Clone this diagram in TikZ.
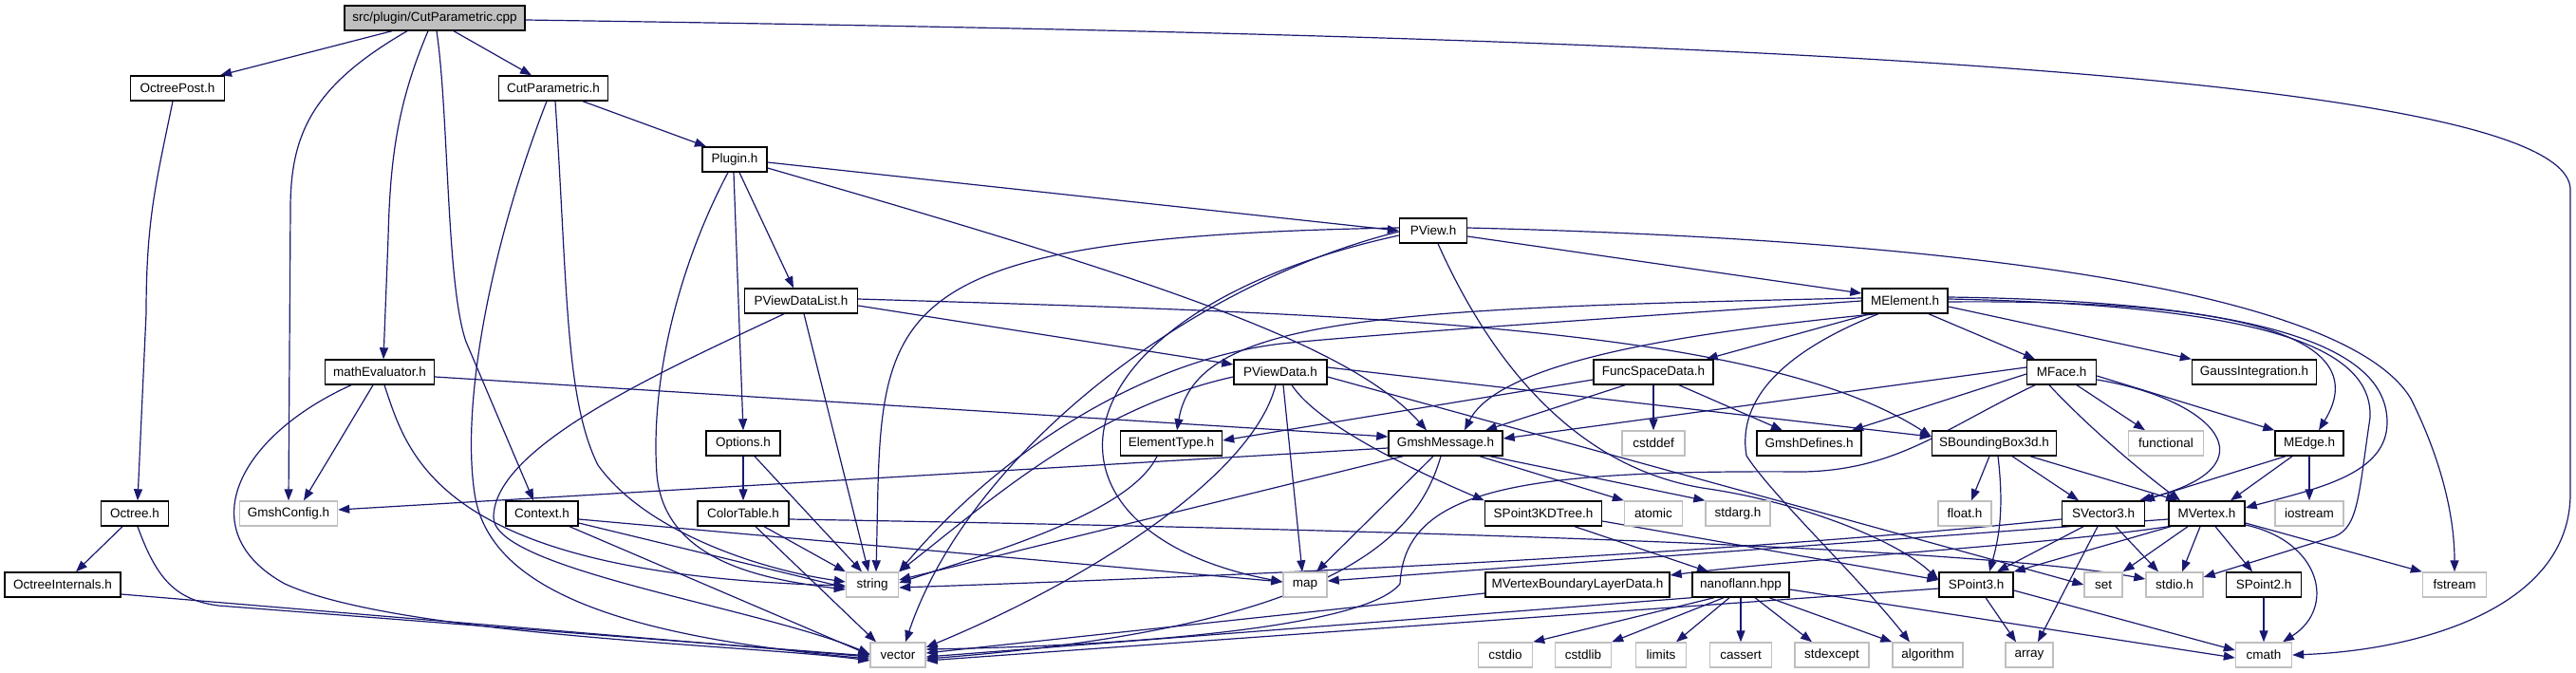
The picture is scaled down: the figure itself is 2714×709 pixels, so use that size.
\documentclass[tikz,border=0pt]{standalone}
\usepackage{fontspec}
\setmainfont{Liberation Sans}
\usetikzlibrary{arrows.meta}
\definecolor{edgeblue}{HTML}{191970}
\definecolor{sysgray}{HTML}{BFBFBF}
\pgfdeclarelayer{bg}
\pgfsetlayers{bg,main}
\begin{document}
\begin{tikzpicture}[x=1pt,y=-1pt,
  hdr/.style={draw=black, line width=1.4pt, fill=white, minimum height=26pt, inner sep=0pt,
              font=\fontsize{13.5}{16}\selectfont},
  sysh/.style={hdr, draw=sysgray},
  lnk/.style={draw=edgeblue, line width=1.2pt, -{Triangle[length=12pt,width=9pt]}}]
\useasboundingbox (0,0) rectangle (2714,709);
% row 1
\node[hdr, fill=sysgray, minimum width=190pt] (cpp) at (458,19) {src/plugin/CutParametric.cpp};
% row 2
\node[hdr, minimum width=99pt] (OctreePost) at (187,93) {OctreePost.h};
\node[hdr, minimum width=115pt] (CutParamH) at (583,93) {CutParametric.h};
% row 3
\node[hdr, minimum width=68pt] (Plugin) at (774,168) {Plugin.h};
% row 4
\node[hdr, minimum width=71pt] (PView) at (1510,243) {PView.h};
% row 5
\node[hdr, minimum width=119pt] (PViewDataList) at (844,317) {PViewDataList.h};
\node[hdr, minimum width=90pt] (MElement) at (2007,317) {MElement.h};
% row 6
\node[hdr, minimum width=115pt] (mathEvaluator) at (400,392) {mathEvaluator.h};
\node[hdr, minimum width=98pt] (PViewData) at (1349,392) {PViewData.h};
\node[hdr, minimum width=126pt] (FuncSpaceData) at (1742,392) {FuncSpaceData.h};
\node[hdr, minimum width=73pt] (MFace) at (2172,392) {MFace.h};
\node[hdr, minimum width=131pt] (GaussIntegration) at (2375,392) {GaussIntegration.h};
% row 7
\node[hdr, minimum width=78pt] (Options) at (783,467) {Options.h};
\node[hdr, minimum width=107pt] (ElementType) at (1234,467) {ElementType.h};
\node[hdr, minimum width=120pt] (GmshMessage) at (1523,467) {GmshMessage.h};
\node[sysh, minimum width=66pt] (cstddef) at (1742,467) {cstddef};
\node[hdr, minimum width=110pt] (GmshDefines) at (1906,467) {GmshDefines.h};
\node[hdr, minimum width=131pt] (SBoundingBox3d) at (2101,467) {SBoundingBox3d.h};
\node[sysh, minimum width=79pt] (functional) at (2282,467) {functional};
\node[hdr, minimum width=72pt] (MEdge) at (2433,467) {MEdge.h};
% row 8
\node[hdr, minimum width=71pt] (Octree) at (142,541) {Octree.h};
\node[sysh, minimum width=103pt] (GmshConfig) at (304,541) {GmshConfig.h};
\node[hdr, minimum width=76pt] (Context) at (571,541) {Context.h};
\node[hdr, minimum width=96pt] (ColorTable) at (783,541) {ColorTable.h};
\node[hdr, minimum width=123pt] (SPoint3KDTree) at (1626,541) {SPoint3KDTree.h};
\node[sysh, minimum width=61pt] (atomic) at (1742,541) {atomic};
\node[sysh, minimum width=68pt] (stdarg) at (1831,541) {stdarg.h};
\node[sysh, minimum width=56pt] (float) at (2070,541) {float.h};
\node[hdr, minimum width=87pt] (SVector3) at (2216,541) {SVector3.h};
\node[hdr, minimum width=80pt] (MVertex) at (2325,541) {MVertex.h};
\node[sysh, minimum width=72pt] (iostream) at (2433,541) {iostream};
% row 9
\node[hdr, minimum width=122pt] (OctreeInternals) at (66,616) {OctreeInternals.h};
\node[sysh, minimum width=55pt] (string) at (919,616) {string};
\node[sysh, minimum width=46pt] (map) at (1375,616) {map};
\node[hdr, minimum width=194pt] (MVBLD) at (1662,616) {MVertexBoundaryLayerData.h};
\node[hdr, minimum width=102pt] (nanoflann) at (1834,616) {nanoflann.hpp};
\node[hdr, minimum width=78pt] (SPoint3) at (2082,616) {SPoint3.h};
\node[sysh, minimum width=40pt] (set) at (2216,616) {set};
\node[sysh, minimum width=60pt] (stdio) at (2291,616) {stdio.h};
\node[hdr, minimum width=79pt] (SPoint2) at (2385,616) {SPoint2.h};
\node[sysh, minimum width=67pt] (fstream) at (2586,616) {fstream};
% row 10
\node[sysh, minimum width=58pt] (vector) at (946,690) {vector};
\node[sysh, minimum width=57pt] (cstdio) at (1586,690) {cstdio};
\node[sysh, minimum width=59pt] (cstdlib) at (1668,690) {cstdlib};
\node[sysh, minimum width=53pt] (limits) at (1750,690) {limits};
\node[sysh, minimum width=65pt] (cassert) at (1834,690) {cassert};
\node[sysh, minimum width=78pt] (stdexcept) at (1930,690) {stdexcept};
\node[sysh, minimum width=74pt] (algorithm) at (2031,690) {algorithm};
\node[sysh, minimum width=50pt] (array) at (2138,690) {array};
\node[sysh, minimum width=59pt] (cmath) at (2385,690) {cmath};

\begin{pgfonlayer}{bg}
% cpp
\draw[lnk] ([xshift=-45pt]cpp.south) -- ([xshift=45pt]OctreePost.north);
\draw[lnk] ([xshift=-29pt]cpp.south) .. controls (330,90) and (306,140) .. (306,220) -- (GmshConfig.north);
\draw[lnk] ([xshift=-7pt]cpp.south) .. controls (418,110) and (411,170) .. (409,250) -- ([xshift=4pt]mathEvaluator.north);
\draw[lnk] ([xshift=2pt]cpp.south) .. controls (473,120) and (470,300) .. (491,360) -- ([xshift=-9pt]Context.north);
\draw[lnk] ([xshift=20pt]cpp.south) -- ([xshift=-23pt]CutParamH.north);
\draw[lnk] ([yshift=-2pt]cpp.east) .. controls (1500,35) and (2708,60) .. (2708,200) -- (2708,520) .. controls (2708,640) and (2550,685) .. (cmath.east);
% OctreePost / Octree
\draw[lnk] ([xshift=-5pt]OctreePost.south) .. controls (165,190) and (154,230) .. (154,330) -- ([xshift=3pt]Octree.north);
\draw[lnk] ([xshift=-13pt]Octree.south) -- ([xshift=14pt]OctreeInternals.north);
\draw[lnk] ([xshift=3pt]Octree.south) .. controls (165,610) and (185,632) .. (230,638) -- ([yshift=-1pt]vector.west);
\draw[lnk] ([yshift=-10pt]OctreeInternals.east) -- ([yshift=-2pt]vector.west);
% CutParametric.h
\draw[lnk] ([xshift=31pt]CutParamH.south) -- ([xshift=-30pt]Plugin.north);
\draw[lnk] ([xshift=-7pt]CutParamH.south) .. controls (520,250) and (485,420) .. (500,520) .. controls (515,620) and (650,670) .. ([yshift=-4pt]vector.west);
\draw[lnk] ([xshift=2pt]CutParamH.south) .. controls (598,300) and (595,420) .. (630,490) .. controls (680,560) and (800,600) .. ([yshift=3pt]string.west);
% mathEvaluator
\draw[lnk] ([xshift=-7pt]mathEvaluator.south) -- ([xshift=16pt]GmshConfig.north);
\draw[lnk] ([xshift=-30pt]mathEvaluator.south) .. controls (250,460) and (200,560) .. (300,615) .. controls (420,670) and (800,680) .. ([yshift=-6pt]vector.west);
\draw[lnk] ([xshift=5pt]mathEvaluator.south) .. controls (430,480) and (460,605) .. ([yshift=-1pt]string.west);
\draw[lnk] ([yshift=-5pt]mathEvaluator.east) -- ([yshift=7pt]GmshMessage.west);
% Plugin
\draw[lnk] ([xshift=-1pt]Plugin.south) -- (Options.north);
\draw[lnk] ([xshift=5pt]Plugin.south) -- ([xshift=-8pt]PViewDataList.north);
\draw[lnk] ([xshift=-7pt]Plugin.south) .. controls (715,280) and (685,400) .. (692,500) .. controls (700,590) and (800,610) .. ([yshift=-5pt]string.west);
\draw[lnk] ([yshift=-3pt]Plugin.east) -- (PView.west);
\draw[lnk] ([yshift=-9pt]Plugin.east) .. controls (1200,290) and (1420,360) .. ([xshift=-20pt]GmshMessage.north);
% PViewDataList
\draw[lnk] ([yshift=-5pt]PViewDataList.east) -- ([yshift=8pt]PViewData.west);
\draw[lnk] ([yshift=2pt]PViewDataList.east) .. controls (1400,330) and (1850,340) .. ([yshift=7pt]SBoundingBox3d.west);
\draw[lnk] ([xshift=3pt]PViewDataList.south) -- ([xshift=-4pt]string.north);
\draw[lnk] ([xshift=-18pt]PViewDataList.south) .. controls (700,390) and (520,470) .. (520,545) .. controls (520,600) and (800,640) .. ([yshift=1pt]vector.west);
% PView
\draw[lnk] ([yshift=-6pt]PView.east) -- ([yshift=8pt]MElement.west);
\draw[lnk] ([yshift=3pt]PView.west) .. controls (900,250) and (930,330) .. ([xshift=4pt]string.north);
\draw[lnk] ([yshift=-1pt]PView.west) .. controls (1250,300) and (1020,480) .. ([xshift=8pt]vector.north);
\draw[lnk] ([yshift=-5pt]PView.west) .. controls (1100,330) and (1070,560) .. ([yshift=3pt]map.west);
\draw[lnk] ([xshift=5pt]PView.south) .. controls (1570,380) and (1660,495) .. (1800,515) .. controls (1900,530) and (2000,570) .. ([yshift=5pt]SPoint3.west);
\draw[lnk] ([yshift=3pt]PView.east) .. controls (2150,255) and (2480,320) .. (2540,420) .. controls (2570,480) and (2586,540) .. (fstream.north);
% MElement
\draw[lnk] ([yshift=3pt]MElement.west) .. controls (1450,325) and (1260,335) .. ([xshift=6pt]ElementType.north);
\draw[lnk] (MElement.west) .. controls (1700,335) and (1450,352) .. (1350,362) .. controls (1200,380) and (1050,480) .. (string.north east);
\draw[lnk] ([xshift=-30pt]MElement.south) .. controls (1780,350) and (1580,380) .. ([xshift=20pt]GmshMessage.north);
\draw[lnk] ([xshift=-37pt]MElement.south) -- ([xshift=-8pt]FuncSpaceData.north east);
\draw[lnk] ([xshift=-28pt]MElement.south) .. controls (1880,370) and (1830,420) .. (1840,480) .. controls (1865,520) and (1960,610) .. ([xshift=-19pt]algorithm.north);
\draw[lnk] ([xshift=25pt]MElement.south) -- ([xshift=-28pt]MFace.north);
\draw[lnk] ([yshift=-6pt]MElement.east) -- (GaussIntegration.north west);
\draw[lnk] ([yshift=-1pt]MElement.east) .. controls (2380,315) and (2500,360) .. ([xshift=10pt]MEdge.north);
\draw[lnk] ([yshift=2pt]MElement.east) .. controls (2400,322) and (2500,370) .. (2497,440) .. controls (2485,520) and (2485,555) .. (2460,565) -- ([yshift=8pt]stdio.east);
\draw[lnk] ([yshift=4pt]MElement.east) .. controls (2430,318) and (2515,380) .. (2515,445) .. controls (2515,500) and (2440,515) .. ([yshift=6pt]MVertex.east);
% FuncSpaceData
\draw[lnk] ([yshift=-8pt]FuncSpaceData.west) -- ([yshift=3pt]ElementType.east);
\draw[lnk] ([xshift=-30pt]FuncSpaceData.south) -- ([xshift=42pt]GmshMessage.north);
\draw[lnk] (FuncSpaceData) -- (cstddef);
\draw[lnk] ([xshift=27pt]FuncSpaceData.south) -- ([xshift=-28pt]GmshDefines.north);
% MFace
\draw[lnk] ([yshift=5pt]MFace.west) -- ([yshift=5pt]GmshMessage.east);
\draw[lnk] ([yshift=-2pt]MFace.west) -- ([xshift=45pt]GmshDefines.north);
\draw[lnk] ([xshift=-28pt]MFace.south) .. controls (2050,450) and (2000,495) .. (1900,497) .. controls (1600,495) and (1480,515) .. (1475,615) .. controls (1440,660) and (1200,680) .. ([yshift=6pt]vector.east);
\draw[lnk] ([xshift=-13pt]MFace.south) .. controls (2200,450) and (2260,500) .. ([xshift=-28pt]MVertex.north);
\draw[lnk] ([xshift=16pt]MFace.south) -- ([xshift=-22pt]functional.north);
\draw[lnk] ([yshift=-4pt]MFace.east) -- (MEdge.north west);
\draw[lnk] ([yshift=-8pt]MFace.east) .. controls (2330,420) and (2400,490) .. ([xshift=38pt]SVector3.north);
% MEdge
\draw[lnk] ([xshift=-25pt]MEdge.south) -- ([xshift=42pt]SVector3.north);
\draw[lnk] ([xshift=-18pt]MEdge.south) -- ([xshift=25pt]MVertex.north);
\draw[lnk] (MEdge) -- (iostream);
% SBoundingBox3d
\draw[lnk] ([xshift=-5pt]SBoundingBox3d.south) -- ([xshift=7pt]float.north);
\draw[lnk] ([xshift=4pt]SBoundingBox3d.south) .. controls (2112,540) and (2105,570) .. ([xshift=14pt]SPoint3.north);
\draw[lnk] ([xshift=19pt]SBoundingBox3d.south) -- ([xshift=-26pt]SVector3.north);
\draw[lnk] ([xshift=38pt]SBoundingBox3d.south) -- ([xshift=-31pt]MVertex.north);
% SVector3
\draw[lnk] ([xshift=-21pt]SVector3.south) -- ([xshift=22pt]SPoint3.north);
\draw[lnk] ([xshift=-6pt]SVector3.south) -- ([xshift=9pt]array.north);
\draw[lnk] ([xshift=13pt]SVector3.south) -- ([xshift=-17pt]stdio.north);
\draw[lnk] ([yshift=-6pt]SVector3.west) .. controls (1900,575) and (1500,600) .. ([yshift=-3pt]string.east);
% MVertex
\draw[lnk] ([yshift=-6pt]MVertex.west) -- ([yshift=4pt]map.east);
\draw[lnk] (MVertex.south west) .. controls (2150,575) and (1900,588) .. ([yshift=10pt]MVBLD.east);
\draw[lnk] ([xshift=-38pt]MVertex.south) -- (SPoint3.north east);
\draw[lnk] ([xshift=-20pt]MVertex.south) -- (set.north east);
\draw[lnk] ([xshift=-7pt]MVertex.south) -- ([xshift=8pt]stdio.north);
\draw[lnk] ([xshift=9pt]MVertex.south) -- ([xshift=-12pt]SPoint2.north);
\draw[lnk] ([yshift=-10pt]MVertex.east) -- (fstream.north west);
\draw[lnk] ([yshift=-12pt]MVertex.east) .. controls (2445,570) and (2462,640) .. ([xshift=20pt]cmath.north);
% SPoint3, SPoint2
\draw[lnk] ([xshift=10pt]SPoint3.south) -- ([xshift=-14pt]array.north);
\draw[lnk] ([yshift=-6pt]SPoint3.east) -- ([yshift=5pt]cmath.west);
\draw[lnk] ([yshift=-4pt]SPoint3.west) -- ([yshift=-6pt]vector.east);
\draw[lnk] (SPoint2) -- (cmath);
% SPoint3KDTree
\draw[lnk] ([xshift=33pt]SPoint3KDTree.south) -- ([xshift=-34pt]nanoflann.north);
\draw[lnk] ([yshift=-8pt]SPoint3KDTree.east) -- ([yshift=5pt]SPoint3.west);
% MVertexBoundaryLayerData
\draw[lnk] ([yshift=-9pt]MVBLD.west) -- ([yshift=2pt]vector.east);
% nanoflann
\draw[lnk] (nanoflann.south west) -- ([yshift=-2pt]vector.east);
\draw[lnk] ([xshift=-28pt]nanoflann.south) -- (cstdio.north east);
\draw[lnk] ([xshift=-18pt]nanoflann.south) -- (cstdlib.north east);
\draw[lnk] ([xshift=-12pt]nanoflann.south) -- ([xshift=16pt]limits.north);
\draw[lnk] (nanoflann) -- (cassert);
\draw[lnk] ([xshift=15pt]nanoflann.south) -- ([xshift=-21pt]stdexcept.north);
\draw[lnk] ([xshift=30pt]nanoflann.south) -- (algorithm.north west);
\draw[lnk] ([yshift=-5pt]nanoflann.east) -- ([yshift=-3pt]cmath.west);
% GmshMessage
\draw[lnk] ([yshift=-5pt]GmshMessage.west) -- ([yshift=4pt]GmshConfig.east);
\draw[lnk] ([xshift=-45pt]GmshMessage.south) -- ([yshift=5pt]string.east);
\draw[lnk] ([xshift=-13pt]GmshMessage.south) -- ([xshift=12pt]map.north);
\draw[lnk] ([xshift=-5pt]GmshMessage.south) .. controls (1495,560) and (1420,660) .. ([yshift=-4pt]vector.east);
\draw[lnk] ([xshift=36pt]GmshMessage.south) -- (atomic.north west);
\draw[lnk] ([xshift=47pt]GmshMessage.south) -- (stdarg.north west);
% Options, ColorTable
\draw[lnk] (Options) -- (ColorTable);
\draw[lnk] ([xshift=12pt]Options.south) -- ([xshift=-11pt]string.north);
\draw[lnk] ([xshift=22pt]ColorTable.south) -- (string.north west);
\draw[lnk] ([xshift=13pt]ColorTable.south) -- ([xshift=-23pt]vector.north);
\draw[lnk] ([yshift=-6pt]ColorTable.east) .. controls (1600,560) and (2100,580) .. ([yshift=6pt]stdio.west);
% Context
\draw[lnk] ([yshift=-6pt]Context.east) -- ([yshift=3pt]map.west);
\draw[lnk] ([yshift=-10pt]Context.east) -- ([yshift=-3pt]string.west);
\draw[lnk] ([xshift=29pt]Context.south) -- (vector.west);
% ElementType
\draw[lnk] ([xshift=-15pt]ElementType.south) .. controls (1190,540) and (1050,580) .. ([yshift=2pt]string.east);
% PViewData
\draw[lnk] ([yshift=-5pt]PViewData.west) .. controls (1150,430) and (1040,530) .. (string.north east);
\draw[lnk] ([xshift=-5pt]PViewData.south) .. controls (1320,500) and (1150,610) .. ([yshift=8pt]vector.east);
\draw[lnk] ([xshift=3pt]PViewData.south) -- ([xshift=-3pt]map.north);
\draw[lnk] ([xshift=12pt]PViewData.south) .. controls (1390,450) and (1500,500) .. (SPoint3KDTree.north west);
\draw[lnk] ([yshift=5pt]PViewData.east) -- ([yshift=7pt]SBoundingBox3d.west);
\draw[lnk] ([yshift=-5pt]PViewData.east) -- (set.west);
\end{pgfonlayer}
\end{tikzpicture}
\end{document}
